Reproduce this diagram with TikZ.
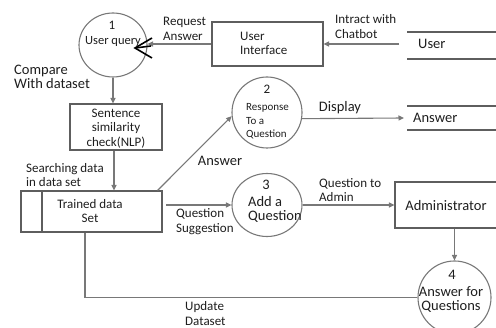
\documentclass[tikz,border=0pt]{standalone}
\usepackage{fontspec}
\setmainfont{Carlito}
\usetikzlibrary{arrows.meta,shapes.geometric}
\definecolor{ln}{HTML}{787878}
\definecolor{bx}{HTML}{5E5E5E}
\definecolor{tx}{HTML}{1E1E1E}
\begin{document}
\begin{tikzpicture}[x=1pt,y=-1pt,
  proc/.style={ellipse,draw=ln,line width=1.1pt,inner sep=0pt},
  boxnode/.style={draw=bx,line width=1.1pt,inner sep=0pt},
  flow/.style={draw=ln,line width=1.1pt,-{Triangle[length=5.5pt,width=5pt]}},
  plain/.style={draw=ln,line width=1.1pt},
  store/.style={draw=bx,line width=1.1pt},
  sm/.style={text=tx,align=left,inner sep=0pt,font=\fontsize{13}{14.5}\selectfont},
  lg/.style={text=tx,align=left,inner sep=0pt,font=\fontsize{14.5}{14.5}\selectfont},
  xs/.style={text=tx,align=left,inner sep=0pt,font=\fontsize{11}{13.5}\selectfont}]
\useasboundingbox (0,0) rectangle (496,328);
\clip (0,0) rectangle (496,328);

% processes
\node[proc,minimum width=68pt,minimum height=64pt] (c1) at (113,45) {};
\node[proc,minimum width=70pt,minimum height=71pt] (c2) at (267,112.5) {};
\node[proc,minimum width=70pt,minimum height=63pt] (c3) at (267,205) {};
\node[proc,minimum width=73pt,minimum height=73pt] (c4) at (454.5,297.5) {};

% boxes
\node[boxnode,minimum width=111pt,minimum height=44pt] (ui) at (267.5,44) {};
\node[boxnode,minimum width=92pt,minimum height=46pt] (sb) at (116,127) {};
\node[boxnode,minimum width=141pt,minimum height=41pt] (tb) at (91.5,211.5) {};
\node[boxnode,minimum width=110pt,minimum height=46pt] (ad) at (450,205) {};
\draw[store] (42,191) -- (42,232);

% data stores
\draw[store] (407,32) -- (500,32);
\draw[store] (407,59) -- (500,59);
\draw[store] (407,106) -- (500,106);
\draw[store] (407,130) -- (500,130);
\coordinate (us) at (399,44);
\coordinate (as) at (404,118);
\coordinate (qs) at (166,205);

% texts in shapes
\node[sm] (t1n) at (112,25) {1};
\node[sm,font=\fontsize{12.5}{14}\selectfont] (t1) at (113,42) {User query};
\node[sm,anchor=west] (tui) at (240,43.5) {User\\Interface};
\node[lg,anchor=west] (tus) at (418,44) {User};
\node[sm,align=center] (tsb) at (116,128.5) {Sentence\\similarity\\check(NLP)};
\node[sm,align=center] (ttb) at (90,211) {Trained data\\Set};
\node[sm] (t2n) at (267,89) {2};
\node[xs,anchor=west] (t2) at (246,121.5) {Response\\To a\\Question};
\node[lg,anchor=west] (tas) at (413,118) {Answer};
\node[lg] (t3n) at (266,185) {3};
\node[lg,anchor=west] (t3) at (248,209.5) {Add a\\Question};
\node[lg] (tad) at (446,206) {Administrator};
\node[lg] (t4n) at (452,275) {4};
\node[lg,align=center] (t4) at (451,299.5) {Answer for\\Questions};

% labels
\node[sm,anchor=west] (lra) at (163,29) {Request\\Answer};
\node[sm,anchor=west] (lic) at (335,26.5) {Intract with\\Chatbot};
\node[lg,anchor=west] (lcw) at (14,77) {Compare\\With dataset};
\node[sm,anchor=west] (lsd) at (26,175) {Searching data\\in data set};
\node[lg] (lan) at (220,161) {Answer};
\node[lg] (ldi) at (340,108) {Display};
\node[sm,anchor=west] (lqs) at (176,221.5) {Question\\Suggestion};
\node[sm,anchor=west] (lqa) at (319,190) {Question to\\Admin};
\node[sm,anchor=west] (lud) at (185,313.5) {Update\\Dataset};

% flows
\draw[flow] (us) -- (ui.east);
\draw[flow] (ui.west) -- (ui.west -| c1.east);
\draw[flow] (c1.south) -- (c1.south |- sb.north);
\draw[flow] ([xshift=-2pt]sb.south) -- ([xshift=-2pt]sb.south |- tb.north);
\draw[flow] ([xshift=-5pt]tb.north east) -- (c2.186);
\draw[flow] (c2.350) -- (as);
\draw[flow] (qs) -- (c3.west);
\draw[flow] (c3.east) -- (ad.west);
\draw[flow] (c4.north |- ad.south) -- (c4.north);
\draw[plain] ([xshift=-6.5pt]tb.south) |- (c4.west);

% black chevron mark
\draw[black,line width=1.6pt,line join=miter] (152,38) -- (135,48) -- (152,58);
\draw[black,line width=1.6pt] (135,48) -- (151,46);
\end{tikzpicture}
\end{document}
